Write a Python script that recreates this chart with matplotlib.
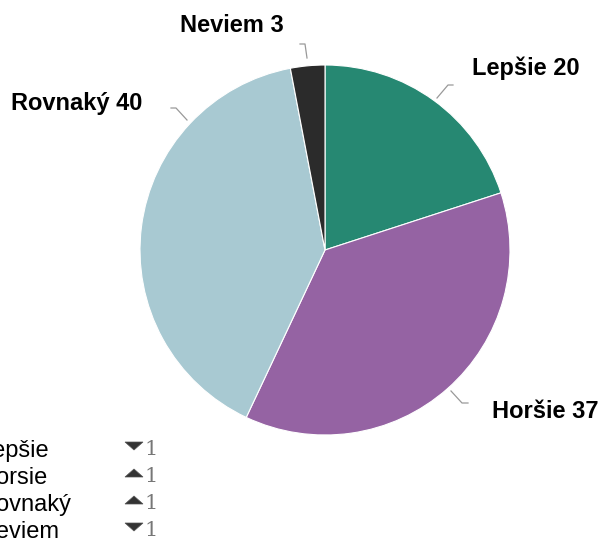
import matplotlib
matplotlib.use("Agg")
import matplotlib.pyplot as plt
from matplotlib.patches import Polygon
import numpy as np

categories = ["Lepšie", "Horšie", "Rovnaký", "Neviem"]
values = [20, 37, 40, 3]
legend_names = ["Lepšie", "Horsie", "Rovnaký", "Neviem"]
legend_changes = [-1, 1, 1, -1]
colors = ["#268872", "#9563a3", "#a8c9d2", "#2b2b2b"]

plt.rcParams['font.family'] = ['Liberation Sans', 'DejaVu Sans']

W, H = 602, 544
fig = plt.figure(figsize=(W / 100, H / 100), dpi=100)
cx, cy, R = 325, 250, 185
ax = fig.add_axes([(cx - R) / W, (H - cy - R) / H, 2 * R / W, 2 * R / H])
ax.pie(values, colors=colors, startangle=90, counterclock=False, radius=1,
       wedgeprops=dict(edgecolor="white", linewidth=0.8))
ax.set_xlim(-1, 1)
ax.set_ylim(-1, 1)
ax.set_aspect("equal")
ax.axis("off")

def p(px, py):
    return ((px - cx) / R, (cy - py) / R)

# leader lines (pixel layout)
leaders = [
    [(437, 98), (448, 85), (453, 85)],
    [(451, 391), (462, 403), (468, 403)],
    [(187, 120), (176, 108), (171, 108)],
    [(307, 58), (305, 44), (300, 44)],
]
for pts in leaders:
    xy = np.array([p(*q) for q in pts])
    ax.plot(xy[:, 0], xy[:, 1], color="#999999", lw=0.9, clip_on=False)

label_pos = [(526, 75), (545, 418), (77, 110), (232, 32)]
for (px, py), c, v in zip(label_pos, categories, values):
    x, y = p(px, py)
    ax.text(x, y, f"{c} {v}", ha="center", va="baseline", fontsize=17, fontweight="bold",
            color="black", clip_on=False)

# legend-like list at bottom left
baselines = [457, 484, 511, 538]
for name, ch, by in zip(legend_names, legend_changes, baselines):
    fig.text(-21 / W, 1 - by / H, name, ha="left", va="baseline", fontsize=17, color="black")
    ay = by - 11
    if ch < 0:
        tri = [(125, ay - 4), (143, ay - 4), (134, ay + 4)]
    else:
        tri = [(125, ay + 4), (143, ay + 4), (134, ay - 4)]
    tri = [(x / W, 1 - y / H) for x, y in tri]
    fig.patches.append(Polygon(tri, closed=True, transform=fig.transFigure,
                               facecolor="#333333", edgecolor="#555555", lw=0.5))
    fig.text(144 / W, 1 - (by - 2) / H, str(abs(ch)), ha="left", va="baseline", fontsize=15,
             color="#777777", family=["DejaVu Serif"])

fig.savefig("out.png", dpi=100)
